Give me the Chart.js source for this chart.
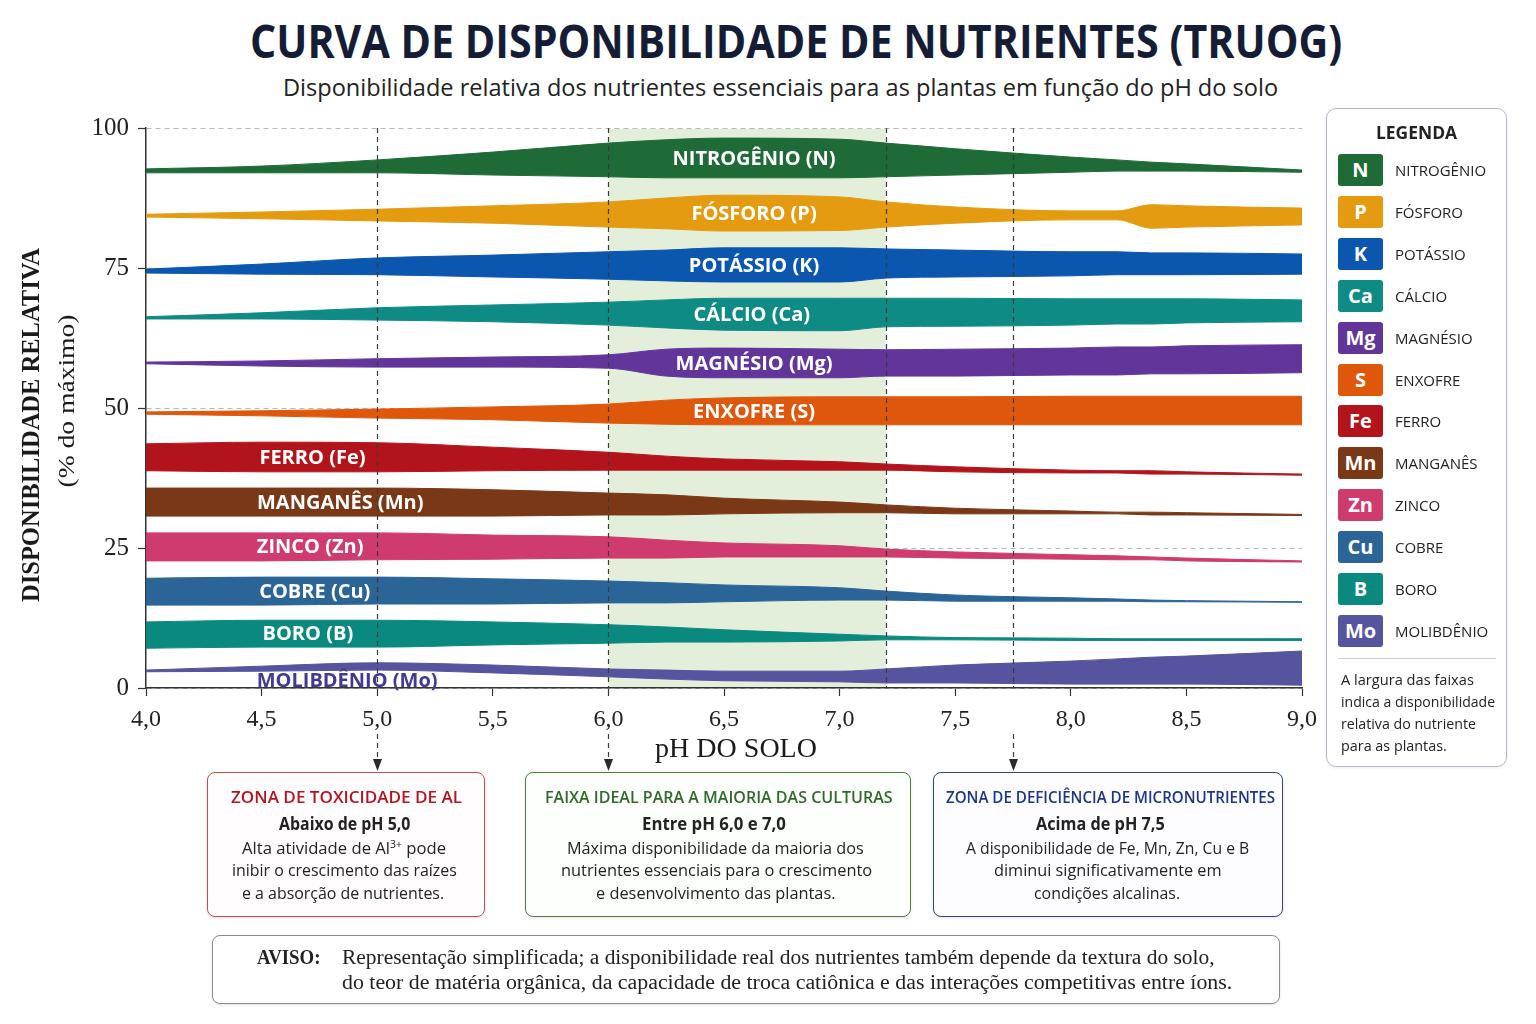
<!DOCTYPE html>
<html lang="pt-BR">
<head>
<meta charset="utf-8">
<title>Curva de disponibilidade de nutrientes (Truog)</title>
<script src="https://cdn.jsdelivr.net/npm/chart.js@4.4.1/dist/chart.umd.min.js"></script>
<style>
  body { margin: 0; background: #fff; font-family: "Open Sans", sans-serif; color: #222; }
  #page { position: relative; width: 1536px; height: 1024px; overflow: hidden; }
  #chartBox { position: absolute; left: 0; top: 100px; width: 1326px; height: 680px; }
  .t { position: absolute; white-space: nowrap; line-height: 1; transform-origin: 0 50%; }
  .title { font-weight: 700; font-size: 46px; color: #141d35; }
  .sub { font-size: 24px; color: #222; }
  .bt { font-weight: 600; font-size: 17px; }
  .red { color: #b3161f; }
  .green { color: #2f6a2a; }
  .blue { color: #1d3585; }
  .bs { font-weight: 700; font-size: 17px; color: #222; }
  .bx { font-size: 16px; color: #222; }
  .bx sup { font-size: 10px; vertical-align: 6px; line-height: 0; }
  .av { font-family: "Liberation Serif", serif; font-size: 20px; color: #222; }
  .box { position: absolute; box-sizing: border-box; border-radius: 8px; box-shadow: 0 1px 3px rgba(0,0,0,0.12); }
  #legend { position: absolute; left: 1326px; top: 108px; width: 181px; height: 659px; box-sizing: border-box;
            border: 1px solid #b4b9c6; border-radius: 10px; box-shadow: 0 1px 3px rgba(0,0,0,0.08); }
  .sw { position: absolute; left: 1338px; width: 45px; height: 32px; border-radius: 3px; color: #fff;
        font-weight: 700; font-size: 20px; line-height: 32px; text-align: center; }
  .lgn { font-size: 15px; color: #222; }
  .note { font-size: 14.5px; color: #222; }
</style>
</head>
<body>
<div id="page">
  <div class="t title" data-x="250" data-y="40" data-w="1092">CURVA DE DISPONIBILIDADE DE NUTRIENTES (TRUOG)</div>
  <div class="t sub" data-x="283" data-y="87" data-w="995">Disponibilidade relativa dos nutrientes essenciais para as plantas em função do pH do solo</div>

  <div id="chartBox"><canvas id="myChart"></canvas></div>

  <div class="box" style="left:207px;top:772px;width:278px;height:145px;border:1.5px solid #c94a4a;background:#fffdfd"></div>
  <div class="box" style="left:525px;top:772px;width:386px;height:145px;border:1.5px solid #4f7d40;background:#fdfffc"></div>
  <div class="box" style="left:933px;top:772px;width:350px;height:145px;border:1.5px solid #2d4486;background:#fdfdff"></div>
  <div class="box" style="left:212px;top:935px;width:1068px;height:69px;border:1.5px solid #8c8c8c;background:#fff"></div>

  <div class="t bt red" data-x="231" data-y="796" data-w="231">ZONA DE TOXICIDADE DE AL</div>
  <div class="t bs" data-x="279" data-y="823" data-w="131">Abaixo de pH 5,0</div>
  <div class="t bx" data-x="242" data-y="848" data-w="204">Alta atividade de Al<sup>3+</sup> pode</div>
  <div class="t bx" data-x="232" data-y="870" data-w="225">inibir o crescimento das raízes</div>
  <div class="t bx" data-x="242" data-y="893" data-w="202">e a absorção de nutrientes.</div>

  <div class="t bt green" data-x="545" data-y="796" data-w="348">FAIXA IDEAL PARA A MAIORIA DAS CULTURAS</div>
  <div class="t bs" data-x="642" data-y="823" data-w="144">Entre pH 6,0 e 7,0</div>
  <div class="t bx" data-x="567" data-y="848" data-w="297">Máxima disponibilidade da maioria dos</div>
  <div class="t bx" data-x="561" data-y="870" data-w="311">nutrientes essenciais para o crescimento</div>
  <div class="t bx" data-x="596" data-y="893" data-w="240">e desenvolvimento das plantas.</div>

  <div class="t bt blue" data-x="946" data-y="796" data-w="329">ZONA DE DEFICIÊNCIA DE MICRONUTRIENTES</div>
  <div class="t bs" data-x="1036" data-y="823" data-w="129">Acima de pH 7,5</div>
  <div class="t bx" data-x="966" data-y="848" data-w="283">A disponibilidade de Fe, Mn, Zn, Cu e B</div>
  <div class="t bx" data-x="994" data-y="870" data-w="228">diminui significativamente em</div>
  <div class="t bx" data-x="1034" data-y="893" data-w="146">condições alcalinas.</div>

  <div class="t av" style="font-weight:700" data-x="257" data-y="957" data-w="63">AVISO:</div>
  <div class="t av" data-x="342" data-y="957" data-w="873">Representação simplificada; a disponibilidade real dos nutrientes também depende da textura do solo,</div>
  <div class="t av" data-x="342" data-y="982" data-w="890">do teor de matéria orgânica, da capacidade de troca catiônica e das interações competitivas entre íons.</div>

  <div id="legend"></div>
  <div class="t bs" data-x="1376" data-y="132" data-w="81">LEGENDA</div>
  <div style="position:absolute;left:1338px;top:658px;width:158px;height:1px;background:#cfcfcf"></div>
  <div class="t note" data-x="1341" data-y="680" data-w="133">A largura das faixas</div>
  <div class="t note" data-x="1341" data-y="702" data-w="154">indica a disponibilidade</div>
  <div class="t note" data-x="1341" data-y="724" data-w="135">relativa do nutriente</div>
  <div class="t note" data-x="1341" data-y="746" data-w="106">para as plantas.</div>
</div>

<script>
// pH grid shared by all bands
const pH = [4.0, 4.5, 5.0, 5.5, 6.0, 6.25, 6.5, 7.0, 7.2, 7.5, 8.0, 8.2, 8.35, 8.5, 9.0];

const names = ['NITROGÊNIO', 'FÓSFORO', 'POTÁSSIO', 'CÁLCIO', 'MAGNÉSIO', 'ENXOFRE',
               'FERRO', 'MANGANÊS', 'ZINCO', 'COBRE', 'BORO', 'MOLIBDÊNIO'];
const symbols = ['N', 'P', 'K', 'Ca', 'Mg', 'S', 'Fe', 'Mn', 'Zn', 'Cu', 'B', 'Mo'];
const colors = ['#1f6b37', '#e49b0f', '#0b56ae', '#0f8b85', '#62359b', '#df570b',
                '#b3141b', '#7a3817', '#cf3a6f', '#2b6598', '#0a8a7e', '#56539f'];

// upper / lower edge of each band (% do máximo)
const nUp  = [92.7, 93.2, 94.3, 95.7, 97.3, 97.9, 98.2, 98.0, 97.3, 96.3, 94.8, 94.3, 93.9, 93.6, 92.5];
const nLo  = [92.0, 92.0, 92.0, 91.6, 91.3, 91.1, 91.1, 91.1, 91.3, 91.6, 92.1, 92.3, 92.3, 92.3, 92.1];
const pUp  = [84.6, 85.0, 85.5, 86.1, 86.8, 87.5, 88.0, 87.7, 86.8, 85.9, 85.2, 85.2, 86.3, 86.1, 85.7];
const pLo  = [84.1, 83.8, 83.4, 83.0, 82.3, 82.0, 81.6, 81.7, 82.3, 83.0, 83.6, 83.6, 82.1, 82.3, 82.7];
const kUp  = [74.8, 75.7, 76.8, 77.3, 77.9, 78.2, 78.6, 78.6, 78.4, 78.2, 77.9, 77.9, 77.7, 77.7, 77.5];
const kLo  = [74.1, 73.9, 73.8, 73.4, 73.0, 72.7, 72.5, 72.5, 73.2, 73.4, 73.6, 73.8, 73.8, 73.8, 73.9];
const caUp = [66.3, 67.0, 67.9, 68.4, 68.9, 69.3, 69.6, 69.6, 69.6, 69.6, 69.5, 69.5, 69.5, 69.5, 69.3];
const caLo = [65.9, 65.9, 65.7, 65.4, 64.8, 64.3, 63.9, 63.8, 64.5, 64.6, 64.8, 65.0, 65.0, 65.2, 65.4];
const mgUp = [58.2, 58.4, 58.8, 59.1, 59.5, 60.5, 60.7, 60.5, 60.4, 60.5, 60.7, 60.9, 60.9, 61.1, 61.3];
const mgLo = [57.9, 57.5, 57.3, 57.3, 57.1, 55.7, 55.4, 55.4, 55.7, 55.7, 55.9, 55.9, 56.1, 56.1, 56.3];
const sUp  = [49.3, 49.5, 49.8, 50.2, 50.7, 51.4, 51.8, 52.0, 52.0, 52.0, 52.1, 52.1, 52.1, 52.1, 52.1];
const sLo  = [48.9, 48.6, 48.2, 47.9, 47.3, 47.1, 47.0, 47.0, 47.0, 47.0, 47.0, 47.0, 47.0, 47.0, 47.0];
const feUp = [43.6, 43.9, 43.8, 43.0, 42.1, 41.4, 40.9, 40.4, 40.0, 39.5, 38.9, 38.8, 38.8, 38.6, 38.2];
const feLo = [38.8, 38.6, 38.6, 38.8, 38.9, 38.9, 38.9, 38.9, 38.9, 38.6, 38.4, 38.4, 38.2, 38.2, 38.0];
const mnUp = [35.7, 35.7, 35.7, 35.4, 34.8, 34.5, 33.9, 33.2, 32.7, 32.1, 31.6, 31.4, 31.4, 31.3, 31.0];
const mnLo = [30.7, 30.7, 30.7, 30.7, 30.9, 30.9, 31.1, 31.3, 31.3, 31.1, 31.1, 31.1, 30.9, 30.9, 30.8];
const znUp = [27.7, 27.7, 27.7, 27.3, 27.0, 26.4, 25.9, 25.4, 24.8, 24.3, 23.8, 23.6, 23.4, 23.2, 22.7];
const znLo = [22.7, 22.7, 22.9, 23.0, 23.2, 23.2, 23.4, 23.4, 23.4, 23.2, 23.0, 22.9, 22.9, 22.7, 22.5];
const cuUp = [19.6, 19.8, 19.8, 19.5, 19.1, 18.8, 18.4, 17.9, 17.3, 16.6, 16.1, 15.9, 15.7, 15.6, 15.4];
const cuLo = [14.8, 14.8, 15.0, 15.0, 15.2, 15.2, 15.4, 15.7, 15.7, 15.5, 15.5, 15.5, 15.4, 15.4, 15.3];
const bUp  = [11.8, 12.1, 12.1, 11.8, 11.3, 10.9, 10.4, 9.6, 9.3, 9.0, 8.9, 8.8, 8.8, 8.8, 8.8];
const bLo  = [7.1, 7.3, 7.3, 7.7, 8.0, 8.2, 8.2, 8.4, 8.6, 8.6, 8.5, 8.5, 8.5, 8.5, 8.5];
const moUp = [3.2, 3.9, 4.5, 4.1, 3.4, 3.2, 3.0, 3.0, 3.4, 4.1, 4.8, 5.2, 5.5, 5.7, 6.6];
const moLo = [2.9, 3.0, 3.2, 2.7, 2.0, 1.6, 1.3, 1.1, 0.9, 0.9, 0.7, 0.7, 0.7, 0.7, 0.5];

const upper = [nUp, pUp, kUp, caUp, mgUp, sUp, feUp, mnUp, znUp, cuUp, bUp, moUp];
const lower = [nLo, pLo, kLo, caLo, mgLo, sLo, feLo, mnLo, znLo, cuLo, bLo, moLo];

const yTicks = [0, 25, 50, 75, 100];
const idealFrom = 6.0, idealTo = 7.2;   // faixa ideal (sombreado)
const markers = [5.0, 6.0, 7.2, 7.75];  // linhas tracejadas
const arrowed = [5.0, 6.0, 7.75];

// where each band label sits (pH), Mo label sits under its band
const labelPh = [6.63, 6.63, 6.63, 6.62, 6.63, 6.63, 4.72, 4.84, 4.71, 4.73, 4.70, 4.87];

/* page text: scale each line to its width */
document.querySelectorAll('.t').forEach(function (el) {
  el.style.left = el.dataset.x + 'px';
  el.style.top = el.dataset.y + 'px';
  let k = el.dataset.w ? el.dataset.w / el.offsetWidth : 1;
  el.style.transform = 'translateY(-50%) scaleX(' + k + ')';
});

/* legend */
let page = document.getElementById('page');
names.forEach(function (n, i) {
  let yc = 170 + i * 41.9;
  let sw = document.createElement('div');
  sw.className = 'sw';
  sw.style.top = (yc - 16) + 'px';
  sw.style.background = colors[i];
  sw.textContent = symbols[i];
  page.appendChild(sw);
  let lb = document.createElement('div');
  lb.className = 't lgn';
  lb.textContent = n;
  lb.style.left = '1395px';
  lb.style.top = yc + 'px';
  lb.style.transform = 'translateY(-50%)';
  page.appendChild(lb);
});

function interp(arr, x) {
  for (let j = 0; j < pH.length - 1; j++) {
    if (x >= pH[j] && x <= pH[j + 1]) {
      let t = (x - pH[j]) / (pH[j + 1] - pH[j]);
      return arr[j] + t * (arr[j + 1] - arr[j]);
    }
  }
  return arr[arr.length - 1];
}

function fitText(ctx, text, x, y, w, rot) {
  ctx.save();
  ctx.translate(x, y);
  if (rot) ctx.rotate(rot);
  let k = w / ctx.measureText(text).width;
  ctx.scale(k, 1);
  ctx.textAlign = 'center';
  ctx.textBaseline = 'middle';
  ctx.fillText(text, 0, 0);
  ctx.restore();
}

const extras = {
  id: 'extras',
  beforeDatasetsDraw(chart) {
    const ctx = chart.ctx, a = chart.chartArea, x = chart.scales.x;
    ctx.save();
    ctx.fillStyle = '#e3eedb';
    let x0 = x.getPixelForValue(idealFrom), x1 = x.getPixelForValue(idealTo);
    ctx.fillRect(x0, a.top + 1, x1 - x0, a.bottom - a.top - 2);
    ctx.restore();
  },
  afterDatasetsDraw(chart) {
    const ctx = chart.ctx, a = chart.chartArea, x = chart.scales.x, y = chart.scales.y;
    // dashed markers + arrows to the boxes
    ctx.save();
    ctx.strokeStyle = '#3a3a3a';
    ctx.fillStyle = '#2a2a2a';
    ctx.lineWidth = 1.2;
    ctx.setLineDash([5, 4]);
    markers.forEach(function (m) {
      let px = Math.round(x.getPixelForValue(m)) + 0.5;
      ctx.beginPath();
      ctx.moveTo(px, a.top);
      ctx.lineTo(px, a.bottom);
      if (arrowed.includes(m)) {
        ctx.moveTo(px, a.bottom + 46);
        ctx.lineTo(px, 660);
      }
      ctx.stroke();
      if (arrowed.includes(m)) {
        ctx.beginPath();
        ctx.moveTo(px - 4.5, 659);
        ctx.lineTo(px + 4.5, 659);
        ctx.lineTo(px, 671);
        ctx.closePath();
        ctx.fill();
      }
    });
    ctx.setLineDash([]);
    // band labels
    ctx.font = '700 20px "Open Sans"';
    ctx.textAlign = 'center';
    ctx.textBaseline = 'middle';
    names.forEach(function (n, i) {
      let lp = labelPh[i];
      let v = (interp(upper[i], lp) + interp(lower[i], lp)) / 2;
      if (symbols[i] === 'Mo') {
        v = 1.4;
        ctx.fillStyle = '#3e3b93';
      } else {
        ctx.fillStyle = '#ffffff';
      }
      ctx.fillText(n + ' (' + symbols[i] + ')', x.getPixelForValue(lp), y.getPixelForValue(v) + 1);
    });
    ctx.restore();
  },
  afterDraw(chart) {
    const ctx = chart.ctx;
    ctx.save();
    ctx.fillStyle = '#1a1a1a';
    ctx.font = '700 26px "Liberation Serif"';
    fitText(ctx, 'DISPONIBILIDADE RELATIVA', 32, 325, 354, -Math.PI / 2);
    ctx.font = '400 23px "Liberation Serif"';
    fitText(ctx, '(% do máximo)', 68, 301, 173, -Math.PI / 2);
    ctx.font = '400 27px "Liberation Serif"';
    fitText(ctx, 'pH DO SOLO', 736, 650, 162, 0);
    ctx.restore();
  }
};

const datasets = [];
names.forEach(function (n, i) {
  datasets.push({
    label: n + ' min',
    data: pH.map((p, j) => ({ x: p, y: lower[i][j] })),
    borderColor: colors[i],
    borderWidth: 1,
    pointRadius: 0,
    fill: false,
    cubicInterpolationMode: 'monotone'
  });
  datasets.push({
    label: n,
    data: pH.map((p, j) => ({ x: p, y: upper[i][j] })),
    borderColor: colors[i],
    backgroundColor: colors[i],
    borderWidth: 1,
    pointRadius: 0,
    fill: '-1',
    cubicInterpolationMode: 'monotone'
  });
});

const ctx = document.getElementById('myChart').getContext('2d');
const myChart = new Chart(ctx, {
  type: 'line',
  data: { datasets: datasets },
  options: {
    responsive: true,
    maintainAspectRatio: false,
    animation: false,
    layout: { padding: { top: 28, right: 18, bottom: 0, left: 0 } },
    plugins: { legend: { display: false }, tooltip: { enabled: false } },
    scales: {
      x: {
        type: 'linear',
        min: 4, max: 9,
        afterFit: function (s) { s.height = 92; },
        ticks: {
          stepSize: 0.5, autoSkip: false, maxRotation: 0, padding: 9,
          color: '#222',
          font: { family: 'Liberation Serif', size: 24 },
          callback: v => v.toFixed(1).replace('.', ',')
        },
        grid: { drawOnChartArea: false, drawTicks: true, tickLength: 8, color: '#333', tickWidth: 1.2 },
        border: { color: '#333', width: 1.5 }
      },
      y: {
        min: 0, max: 100,
        afterFit: function (s) { s.width = 146; },
        afterBuildTicks: function (s) { s.ticks = yTicks.map(v => ({ value: v })); },
        ticks: {
          padding: 9,
          color: '#222',
          font: { family: 'Liberation Serif', size: 25 }
        },
        grid: { color: '#b8b8b8', tickColor: '#333', tickLength: 8, lineWidth: 1, tickWidth: 1.2 },
        border: { color: '#333', width: 1.5, dash: [5, 4] }
      }
    }
  },
  plugins: [extras]
});
</script>
</body>
</html>
